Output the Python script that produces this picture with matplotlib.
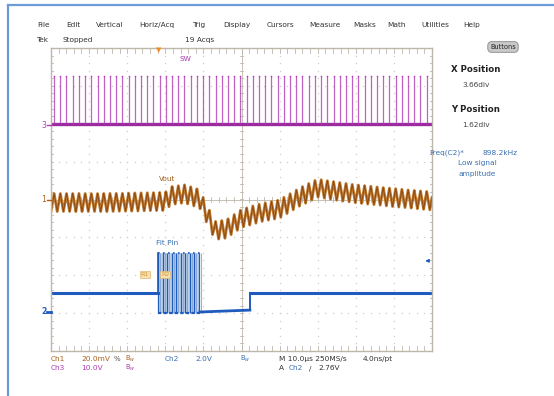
import numpy as np
import matplotlib
matplotlib.use("Agg")
import matplotlib.pyplot as plt
from matplotlib.lines import Line2D

W, H = 554, 396

# ---- data (x in divisions 0..10, y in divisions -4..4) ----
# Ch3 "SW": baseline and pulse top, switching period in divisions
sw_base = 2.0
sw_top = 3.25
sw_first = 0.08
sw_period = 0.163

# Ch1 "Vout": mean level control points and ripple
vout_x = [0.0, 1.5, 3.0, 3.15, 3.5, 3.9, 4.05, 4.3, 4.6, 5.0, 5.5, 6.0, 6.5, 7.0, 7.5, 8.0, 9.0, 10.0]
vout_y = [-0.08, -0.08, -0.05, 0.1, 0.15, 0.02, -0.3, -0.82, -0.78, -0.5, -0.35, -0.25, 0.05, 0.3, 0.22, 0.15, 0.05, -0.04]
vout_ripple = 0.24
vout_period = 0.163

# Ch2 "Fit Pin": levels between breakpoints
fit_x = [0.0, 2.81, 3.91, 5.22, 10.0]
fit_lo = [-2.47, -2.97, -2.92, -2.47]
burst_lo, burst_hi = -3.0, -1.4
burst_start, burst_end = 2.81, 3.91
burst_period = 0.118

menu = ["File", "Edit", "Vertical", "Horiz/Acq", "Trig", "Display", "Cursors",
        "Measure", "Masks", "Math", "Utilities", "Help"]
menu_x = [43, 73, 110, 157, 199, 237, 280, 325, 365, 397, 435, 472]

PURPLE = "#b03bb4"
BROWN = "#a8601c"
BLUE = "#1f5bbd"
TXTBLUE = "#3a6fb0"
GRIDC = "#bdb7aa"
DOTC = "#d2cdc4"

fig = plt.figure(figsize=(W / 100, H / 100), dpi=100)
fig.patch.set_facecolor("white")


def px(x, y):
    return x / W, 1 - y / H


def t(x, y, s, color="#333333", size=5.3, ha="center", **kw):
    fig.text(*px(x, y), s, color=color, fontsize=size, ha=ha, va="center",
             family="DejaVu Sans", **kw)


# window frame lines
fig.add_artist(Line2D([8 / W, 1], [1 - 5 / H] * 2, color="#6f9ad8", lw=1.6))
fig.add_artist(Line2D([8 / W] * 2, [0, 1 - 5 / H], color="#6f9ad8", lw=1.6))

ax = fig.add_axes([51 / W, 1 - 351 / H, 381 / W, 303 / H])
ax.set_xlim(0, 10)
ax.set_ylim(-4, 4)
ax.set_xticks([])
ax.set_yticks([])
for s in ax.spines.values():
    s.set_color(GRIDC)
    s.set_linewidth(1.0)

# graticule dots
minor = np.arange(0, 10.01, 0.2)
minor_y = np.arange(-4, 4.01, 0.2)
for gx in range(1, 10):
    if gx == 5:
        continue
    ax.plot([gx] * len(minor_y), minor_y, ls="none", marker="s", ms=0.9, mew=0, color=DOTC)
for gy in range(-3, 4):
    if gy == 0:
        continue
    ax.plot(minor, [gy] * len(minor), ls="none", marker="s", ms=0.9, mew=0, color=DOTC)
# centre cross with ticks
ax.axvline(5, color=GRIDC, lw=0.6)
ax.axhline(0, color=GRIDC, lw=0.6)
for v in minor:
    ax.plot([v, v], [-0.06, 0.06], color=GRIDC, lw=0.6)
    ax.plot([v, v], [-4, -3.88], color=GRIDC, lw=0.6)
    ax.plot([v, v], [4, 3.88], color=GRIDC, lw=0.6)
for v in minor_y:
    ax.plot([4.97, 5.03], [v, v], color=GRIDC, lw=0.6)
    ax.plot([0, 0.06], [v, v], color=GRIDC, lw=0.6)
    ax.plot([10, 9.94], [v, v], color=GRIDC, lw=0.6)

# ---- SW (Ch3)
ax.plot([0, 10], [sw_base, sw_base], color="#9a2a9e", lw=2.4, solid_capstyle="butt")
pulses = np.arange(sw_first, 10, sw_period)
ax.vlines(pulses, sw_base, sw_top, color=PURPLE, lw=0.9, alpha=0.8)
ax.plot(pulses, [sw_top] * len(pulses), ls="none", marker="s", ms=1.0, mew=0, color=PURPLE)

# ---- Vout (Ch1)
xs = np.linspace(0, 10, 6000)
env = np.interp(xs, vout_x, vout_y)
phase = (xs / vout_period) % 1.0
tri = np.where(phase < 0.5, phase * 2, 2 - phase * 2) * 2 - 1
ax.plot(xs, env + vout_ripple * tri, color="#c07a30", lw=2.0)
ax.plot(xs, env + vout_ripple * tri, color="#8c4a12", lw=0.7)

# ---- Fit Pin (Ch2)
ax.fill_between([burst_start, burst_end], burst_lo, burst_hi, color="#bcd0e6", lw=0)
edges = np.arange(burst_start, burst_end + 0.001, burst_period)
ax.vlines(edges, burst_lo, burst_hi, color=BLUE, lw=0.9)
ax.vlines(edges + burst_period * 0.5, burst_lo, burst_hi, color="#7fa2d2", lw=0.6)
ax.plot([burst_start, burst_end], [burst_hi, burst_hi], color=BLUE, lw=1.2, ls=(0, (1, 2)))
ax.plot([burst_start, burst_end], [burst_lo, burst_lo], color=BLUE, lw=1.6, ls=(0, (1.5, 1)))
ax.plot(fit_x[:2], [fit_lo[0]] * 2, color=BLUE, lw=2.2)
ax.plot(fit_x[2:4], fit_lo[1:3], color=BLUE, lw=2.0)
ax.plot([fit_x[3]] * 2, [fit_lo[2], fit_lo[3]], color=BLUE, lw=1.4)
ax.plot(fit_x[3:], [fit_lo[3]] * 2, color=BLUE, lw=2.2)
ax.plot([fit_x[1], fit_x[1]], [fit_lo[0], burst_hi], color=BLUE, lw=1.2)

# labels inside
ax.text(3.52, 3.7, "SW", color=PURPLE, fontsize=5.3, ha="center", va="center")
ax.text(3.05, 0.55, "Vout", color=BROWN, fontsize=5.3, ha="center", va="center")
ax.text(3.05, -1.15, "Fit Pin", color=TXTBLUE, fontsize=5.3, ha="center", va="center")
for bx, lab in [(2.47, "R1"), (3.0, "R2")]:
    ax.text(bx, -1.97, lab, color="#d39a3a", fontsize=4.6, ha="center", va="center",
            bbox=dict(boxstyle="square,pad=0.15", fc="#f6e0b0", ec="#e0b870", lw=0.5))

# trigger level arrow
ax.annotate("", xy=(9.75, -1.62), xytext=(10.0, -1.62),
            arrowprops=dict(arrowstyle="-|>", color=BLUE, lw=0.8, mutation_scale=5))

# channel markers on the left
t(44, 125, "3", PURPLE, 5.5)
t(44, 200, "1", BROWN, 5.5)
t(44, 312, "2", BLUE, 5.5, weight="bold")
fig.add_artist(Line2D([47 / W, 51 / W], [1 - 125 / H] * 2, color=PURPLE, lw=1))
fig.add_artist(Line2D([47 / W, 51 / W], [1 - 200 / H] * 2, color=BROWN, lw=1))
fig.add_artist(Line2D([47 / W, 51 / W], [1 - 312 / H] * 2, color=BLUE, lw=2))

# trigger position marker
fig.text(*px(159, 50), "\u25bc", color="#f08a20", fontsize=5, ha="center", va="center")

# menu bar and status line
for s, x in zip(menu, menu_x):
    t(x, 25, s)
t(42, 40, "Tek")
t(78, 40, "Stopped")
t(200, 40, "19 Acqs")
fig.text(*px(503, 47), "Buttons", fontsize=4.8, ha="center", va="center", color="#222222",
         bbox=dict(boxstyle="round,pad=0.35,rounding_size=0.6", fc="#c9c9c9", ec="#888888", lw=0.6))

# right side panel
t(476, 70, "X Position", "#222222", 6.2, weight="bold")
t(476, 85, "3.66div", "#444444", 5.3)
t(476, 110, "Y Position", "#222222", 6.2, weight="bold")
t(476, 125, "1.62div", "#444444", 5.3)
t(447, 153, "Freq(C2)*", TXTBLUE, 5.3)
t(500, 153, "898.2kHz", TXTBLUE, 5.3)
t(477, 163, "Low signal", TXTBLUE, 5.3)
t(477, 174, "amplitude", TXTBLUE, 5.3)

# bottom readouts
t(51, 359, "Ch1", BROWN, 5.3, ha="left")
t(81, 359, "20.0mV", BROWN, 5.3, ha="left")
t(117, 359, "%", "#555555", 5.0)
t(130, 359, "B$_w$", BROWN, 4.8)
t(165, 359, "Ch2", TXTBLUE, 5.3, ha="left")
t(195, 359, "2.0V", TXTBLUE, 5.3, ha="left")
t(245, 359, "B$_w$", TXTBLUE, 4.8)
t(51, 368, "Ch3", PURPLE, 5.3, ha="left")
t(81, 368, "10.0V", PURPLE, 5.3, ha="left")
t(130, 368, "B$_w$", PURPLE, 4.8)
t(279, 359, "M 10.0\u00b5s 250MS/s", "#333333", 5.3, ha="left")
t(363, 359, "4.0ns/pt", "#333333", 5.3, ha="left")
t(279, 368, "A", "#333333", 5.3, ha="left")
t(289, 368, "Ch2", TXTBLUE, 5.3, ha="left")
t(309, 368, "\u2215", "#333333", 5.3, ha="left")
t(318, 368, "2.76V", "#333333", 5.3, ha="left")

fig.savefig("out.png", dpi=100, facecolor="white")
